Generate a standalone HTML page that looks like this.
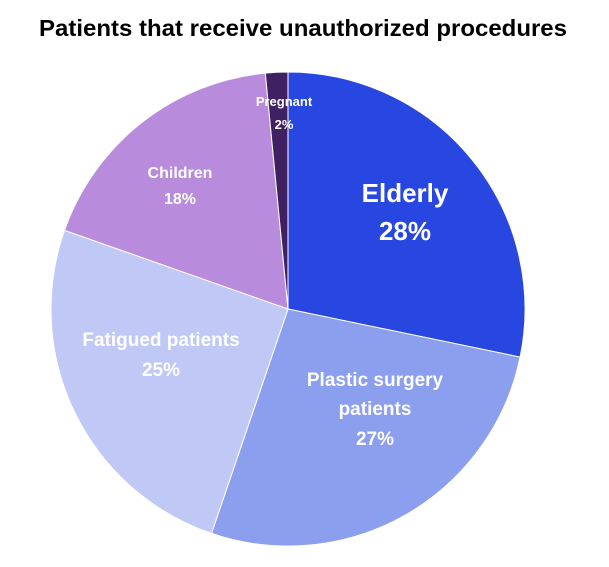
<!DOCTYPE html>
<html><head><style>body{margin:0;background:#fff}</style></head><body>
<svg width="609" height="562" xmlns="http://www.w3.org/2000/svg" font-family="Liberation Sans, sans-serif" font-weight="bold">
<rect width="609" height="562" fill="#fff"/>
<text x="303" y="36" text-anchor="middle" font-size="23" fill="#000" textLength="528" lengthAdjust="spacingAndGlyphs">Patients that receive unauthorized procedures</text>
<g stroke="#fff" stroke-width="1">
<path d="M288,309 L288,72 A237,237 0 0 1 520.1,357.1 Z" fill="#2747E0"/>
<path d="M288,309 L520.1,357.1 A237,237 0 0 1 211.5,533.4 Z" fill="#8C9EEE"/>
<path d="M288,309 L211.5,533.4 A237,237 0 0 1 64.5,230.3 Z" fill="#C0C8F5"/>
<path d="M288,309 L64.5,230.3 A237,237 0 0 1 265.3,73.1 Z" fill="#B98BDC"/>
<path d="M288,309 L265.3,73.1 A237,237 0 0 1 288,72 Z" fill="#3F2060"/>
</g>
<g fill="#fff" text-anchor="middle">
<text x="405" y="202" font-size="26">Elderly</text>
<text x="405" y="240" font-size="26">28%</text>
<text x="375" y="386" font-size="19">Plastic surgery</text>
<text x="375" y="415" font-size="19">patients</text>
<text x="375" y="445" font-size="19">27%</text>
<text x="161" y="346" font-size="19">Fatigued patients</text>
<text x="161" y="376" font-size="19">25%</text>
<text x="180" y="178" font-size="16">Children</text>
<text x="180" y="204" font-size="16">18%</text>
<text x="284" y="106" font-size="13">Pregnant</text>
<text x="284" y="129" font-size="13">2%</text>
</g>
</svg>
</body></html>
